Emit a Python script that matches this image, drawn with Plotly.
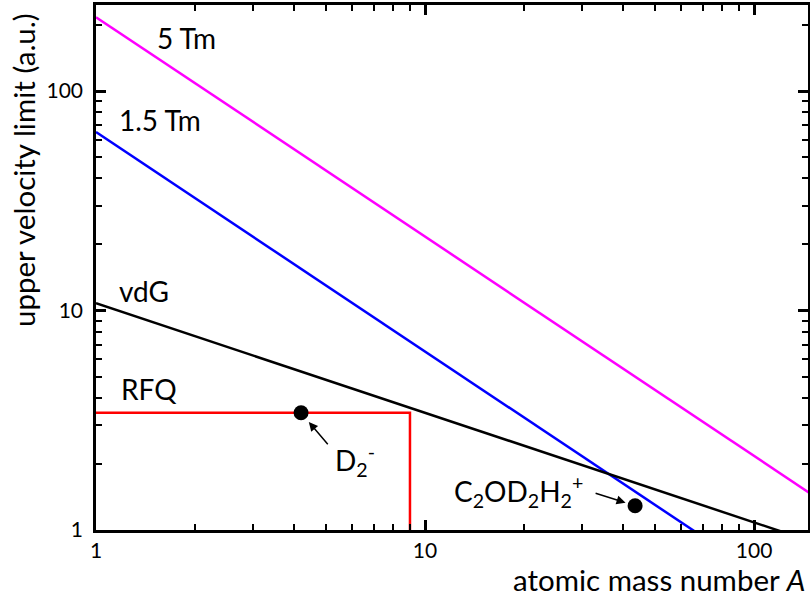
import math
import plotly.graph_objects as go

# --- data ---
mag_A = [1, 150]
mag_v = [217, 1.45]          # 5 Tm
blue_A = [1, 70]
blue_v = [65, 0.93]          # 1.5 Tm
vdg_A = [1, 130]
vdg_v = [10.8, 0.95]         # vdG
rfq_A = [1, 9, 9]
rfq_v = [3.42, 3.42, 0.9]    # RFQ
pts_A = [4.2, 43.5]
pts_v = [3.42, 1.29]
pts_lbl = ["D<sub>2</sub><sup>-</sup>", "C<sub>2</sub>OD<sub>2</sub>H<sub>2</sub><sup>+</sup>"]

x_ticks = [1, 10, 100]
y_ticks = [1, 10, 100]
x_minor = [2, 3, 4, 5, 6, 7, 8, 9, 20, 30, 40, 50, 60, 70, 80, 90]
y_minor = [2, 3, 4, 5, 6, 7, 8, 9, 20, 30, 40, 50, 60, 70, 80, 90, 200]

FONT = "Lato"
LBL = 28

fig = go.Figure()
fig.add_trace(go.Scatter(x=mag_A, y=mag_v, mode="lines", line=dict(color="#ff00ff", width=2.5)))
fig.add_trace(go.Scatter(x=blue_A, y=blue_v, mode="lines", line=dict(color="#0000ff", width=2.5)))
fig.add_trace(go.Scatter(x=vdg_A, y=vdg_v, mode="lines", line=dict(color="black", width=2.5)))
fig.add_trace(go.Scatter(x=rfq_A, y=rfq_v, mode="lines", line=dict(color="#ff0000", width=2.5)))
fig.add_trace(go.Scatter(x=pts_A, y=pts_v, mode="markers", marker=dict(color="black", size=15)))

L = math.log10
ann = []
# line labels
for txt, px, py in [("5 Tm", 186, 38), ("1.5 Tm", 160, 120), ("vdG", 144, 291), ("RFQ", 149, 389)]:
    ann.append(dict(text=txt, xref="paper", yref="paper", x=(px - 96) / 712, y=(530 - py) / 525,
                    xanchor="center", yanchor="middle",
                    showarrow=False, font=dict(size=LBL, color="black", family=FONT)))
# point arrows
ann.append(dict(x=L(pts_A[0]), y=L(pts_v[0]), xref="x", yref="y", ax=28, ay=33, text="",
                showarrow=True, arrowhead=2, arrowsize=1.2, arrowwidth=1.5, standoff=12, arrowcolor="black"))
ann.append(dict(x=L(pts_A[1]), y=L(pts_v[1]), xref="x", yref="y", ax=-41, ay=-13, text="",
                showarrow=True, arrowhead=2, arrowsize=1.2, arrowwidth=1.5, standoff=10, arrowcolor="black"))
# point labels
ann.append(dict(x=L(pts_A[0]), y=L(pts_v[0]), xref="x", yref="y", text=pts_lbl[0], showarrow=False,
                xanchor="left", yanchor="middle", xshift=32, yshift=-48,
                font=dict(size=LBL, color="black", family=FONT)))
ann.append(dict(x=L(pts_A[1]), y=L(pts_v[1]), xref="x", yref="y", text=pts_lbl[1], showarrow=False,
                xanchor="right", yanchor="middle", xshift=-50, yshift=14,
                font=dict(size=LBL, color="black", family=FONT)))
# axis titles
ann.append(dict(text="atomic mass number <i>A</i>", xref="paper", yref="paper", x=1.0, y=0,
                xanchor="right", yanchor="top", yshift=-30, xshift=-1, showarrow=False,
                font=dict(size=29.5, color="black", family=FONT)))
ann.append(dict(text="upper velocity limit (a.u.)", xref="paper", yref="paper", x=0, y=(530 - 170) / 525,
                xanchor="center", yanchor="middle", xshift=-73, textangle=-90, showarrow=False,
                font=dict(size=29.5, color="black", family=FONT)))

axis_common = dict(type="log", showgrid=False, zeroline=False, showline=True, linecolor="black",
                   linewidth=2.5, mirror="allticks", ticks="inside", ticklen=10, tickwidth=2.5,
                   tickcolor="black", tickmode="array", automargin=False,
                   tickfont=dict(size=21, color="black", family=FONT))

fig.update_xaxes(**axis_common, range=[0, 2.164], tickvals=x_ticks, ticktext=[str(v) for v in x_ticks],
                 minor=dict(tickvals=x_minor, ticks="inside", ticklen=6, tickwidth=2, tickcolor="black"))
fig.update_yaxes(**axis_common, range=[0, 2.392], tickvals=y_ticks, ticktext=[str(v) for v in y_ticks],
                 ticklabelstandoff=6,
                 minor=dict(tickvals=y_minor, ticks="inside", ticklen=6, tickwidth=2, tickcolor="black"))

fig.update_layout(width=810, height=601, margin=dict(l=96, r=2, t=5, b=71, autoexpand=False),
                  plot_bgcolor="white", paper_bgcolor="white", showlegend=False,
                  annotations=ann, font=dict(family=FONT, color="black"))

fig.write_html("out.html", config={"displayModeBar": False},
               post_script="document.body.style.margin='0';document.body.style.overflow='hidden';")
